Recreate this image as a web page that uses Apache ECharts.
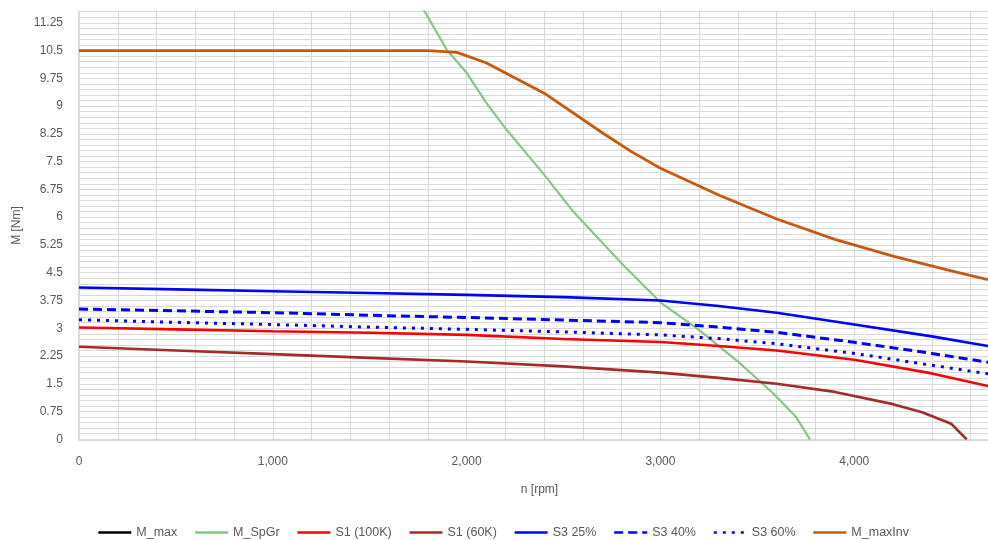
<!DOCTYPE html>
<html>
<head>
<meta charset="utf-8">
<script src="https://cdn.jsdelivr.net/npm/echarts@6/dist/echarts.min.js"></script>
<style>
html,body{margin:0;padding:0;background:#fff;}
#chart{width:988px;height:540px;}
</style>
</head>
<body>
<div id="chart"></div>
<script>
// ---- Data (n [rpm], M [Nm]) ----
const seriesNames = ['M_max', 'M_SpGr', 'S1 (100K)', 'S1 (60K)', 'S3 25%', 'S3 40%', 'S3 60%', 'M_maxInv'];

const mMaxN = [];
const mMaxM = [];

const spgrN = [1760, 1900, 2000, 2100, 2200, 2400, 2550, 2800, 3000, 3200, 3400, 3580, 3700, 3771];
const spgrM = [11.77, 10.5, 9.9, 9.1, 8.4, 7.15, 6.15, 4.75, 3.7, 2.95, 2.1, 1.25, 0.6, 0];

const s1_100N = [0, 500, 1000, 1500, 2000, 2500, 3000, 3300, 3600, 4000, 4400, 4690];
const s1_100M = [3.02, 2.97, 2.92, 2.88, 2.82, 2.71, 2.63, 2.52, 2.4, 2.15, 1.78, 1.44];

const s1_60N = [0, 500, 1000, 1500, 2000, 2500, 3000, 3300, 3600, 3900, 4200, 4350, 4500, 4580];
const s1_60M = [2.5, 2.4, 2.3, 2.2, 2.1, 1.97, 1.8, 1.66, 1.5, 1.28, 0.95, 0.73, 0.42, 0];

const s3_25N = [0, 500, 1000, 1500, 2000, 2500, 3000, 3300, 3600, 4000, 4400, 4690];
const s3_25M = [4.1, 4.05, 4.0, 3.95, 3.9, 3.84, 3.75, 3.6, 3.42, 3.1, 2.78, 2.52];

const s3_40N = [0, 500, 1000, 1500, 2000, 2500, 3000, 3300, 3600, 4000, 4400, 4690];
const s3_40M = [3.52, 3.47, 3.42, 3.35, 3.29, 3.22, 3.15, 3.03, 2.89, 2.62, 2.32, 2.08];

const s3_60N = [0, 500, 1000, 1500, 2000, 2500, 3000, 3300, 3600, 4000, 4400, 4690];
const s3_60M = [3.23, 3.16, 3.1, 3.03, 2.97, 2.9, 2.82, 2.72, 2.58, 2.32, 2.0, 1.77];

const maxInvN = [0, 1800, 1950, 2100, 2400, 2700, 2850, 3000, 3300, 3600, 3900, 4200, 4500, 4690];
const maxInvM = [10.5, 10.5, 10.45, 10.17, 9.35, 8.28, 7.77, 7.32, 6.6, 5.95, 5.4, 4.95, 4.55, 4.31];

// ---- Axis settings ----
const xMin = 0, xMax = 4690, xStep = 200, xLabelStep = 1000;
const yMin = 0, yMax = 11.55, yStep = 0.15, yLabelStep = 0.75;

function zip(a, b) { return a.map((v, i) => [v, b[i]]); }

const FONT = "'Liberation Sans', Arial, sans-serif";
const TXT = '#595959';
const GRID = '#d9d9d9';

function lineSeries(name, n, m, color, width, type) {
  return {
    name: name,
    type: 'line',
    data: zip(n, m),
    symbol: 'none',
    showSymbol: false,
    smooth: false,
    clip: true,
    lineStyle: { color: color, width: width, type: type || 'solid', cap: 'butt' },
    itemStyle: { color: color },
    emphasis: { disabled: true }
  };
}

const chart = echarts.init(document.getElementById('chart'), null, { renderer: 'canvas' });

chart.setOption({
  animation: false,
  backgroundColor: '#ffffff',
  textStyle: { fontFamily: FONT },
  grid: { left: 79, right: 0, top: 11.7, bottom: 100.7, containLabel: false },
  legend: {
    data: seriesNames,
    left: 92,
    top: 521,
    itemWidth: 33,
    itemHeight: 14,
    itemGap: 16.5,
    itemStyle: { opacity: 0 },
    lineStyle: { width: 2.6 },
    textStyle: { color: TXT, fontSize: 12.5, fontFamily: FONT },
    selectedMode: false
  },
  xAxis: {
    type: 'value',
    min: xMin, max: xMax, interval: xStep,
    name: 'n [rpm]',
    nameLocation: 'middle',
    nameGap: 44,
    nameTextStyle: { color: TXT, fontSize: 12, fontFamily: FONT, padding: [0, 0, 0, 12] },
    axisLine: { show: true, lineStyle: { color: GRID, width: 2 } },
    axisTick: { show: false },
    axisLabel: {
      color: TXT, fontSize: 12, fontFamily: FONT, margin: 16,
      showMaxLabel: false,
      formatter: function (v) {
        const r = v / xLabelStep;
        if (Math.abs(r - Math.round(r)) < 1e-6) {
          return Math.round(v).toLocaleString('en-US');
        }
        return '';
      }
    },
    splitLine: { show: true, showMaxLine: false, lineStyle: { color: GRID, width: 1 } }
  },
  yAxis: {
    type: 'value',
    min: yMin, max: yMax, interval: yStep,
    name: 'M [Nm]',
    nameLocation: 'middle',
    nameGap: 54,
    nameRotate: 90,
    nameTextStyle: { color: TXT, fontSize: 12, fontFamily: FONT },
    axisLine: { show: true, lineStyle: { color: GRID, width: 2 } },
    axisTick: { show: false },
    axisLabel: {
      color: TXT, fontSize: 12, fontFamily: FONT, margin: 16,
      showMaxLabel: false,
      formatter: function (v) {
        const r = v / yLabelStep;
        if (Math.abs(r - Math.round(r)) < 1e-6) {
          return String(Math.round(v * 100) / 100);
        }
        return '';
      }
    },
    splitLine: { show: true, lineStyle: { color: GRID, width: 1 } }
  },
  series: [
    lineSeries('M_max', mMaxN, mMaxM, '#000000', 2.5),
    lineSeries('M_SpGr', spgrN, spgrM, '#85c785', 2.2),
    lineSeries('S1 (100K)', s1_100N, s1_100M, '#ff0000', 2.6),
    lineSeries('S1 (60K)', s1_60N, s1_60M, '#a52a2a', 2.6),
    lineSeries('S3 25%', s3_25N, s3_25M, '#0000ff', 2.6),
    lineSeries('S3 40%', s3_40N, s3_40M, '#0000ff', 3, [9, 5]),
    lineSeries('S3 60%', s3_60N, s3_60M, '#0000ff', 3, [3, 6]),
    lineSeries('M_maxInv', maxInvN, maxInvM, '#c55a11', 2.8)
  ]
});
</script>
</body>
</html>
